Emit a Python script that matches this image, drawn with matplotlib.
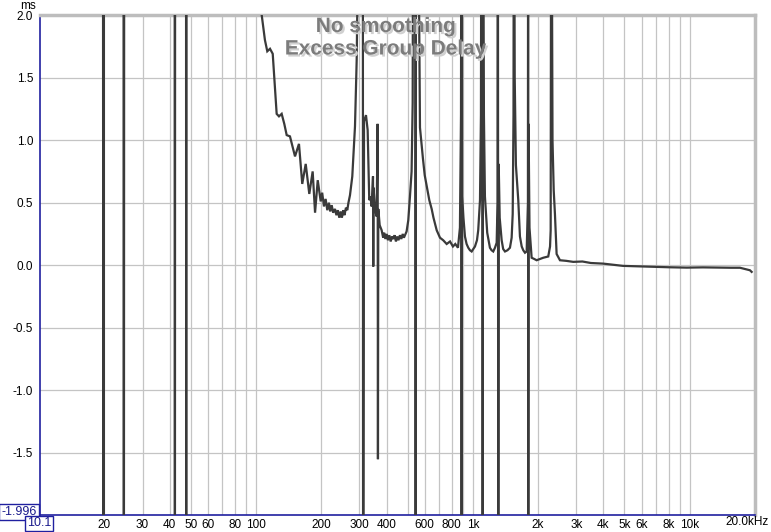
"""
Excess group delay plot (REW style), no smoothing.
Log frequency axis 10.1 Hz .. 20 kHz, delay in ms.
"""
import matplotlib
matplotlib.use("Agg")
import matplotlib.pyplot as plt
import matplotlib.patheffects as pe

# ─────────────────────────────────────────────
# DATA (4.0 / -4.0 = off-chart)
# ─────────────────────────────────────────────

# below ~106 Hz the delay is above the chart, with phase-wrap spikes
low_freq  = [10.1, 19.7, 19.8, 19.9, 24.5, 24.6, 24.7, 42.2, 42.3, 42.4,
             47.6, 47.7, 47.8, 100.0]
low_delay = [4.0, 4.0, -4.0, 4.0, 4.0, -4.0, 4.0, 4.0, -4.0, 4.0,
             4.0, -4.0, 4.0, 2.6]

# the bowl between ~106 Hz and ~293 Hz
bowl_freq  = [106.3, 110.0, 112.8, 116.1, 119.5, 124.6, 127.7, 131.4, 135.1,
              138.6, 143.5, 151.4, 157.9, 163.5, 169.6, 176.2, 182.6, 187.3,
              192.7, 198.9, 202.0, 205.9, 209.5, 213.3, 217.0, 220.0, 223.5,
              227.0, 231.4, 235.0, 238.5, 242.3, 246.0, 249.0, 252.8, 256.0,
              260.0, 263.7, 267.0, 271.4, 278.1, 286.2, 291.4, 293.3]
bowl_delay = [2.0, 1.80, 1.71, 1.73, 1.69, 1.21, 1.19, 1.21, 1.13,
              1.04, 1.03, 0.87, 0.97, 0.65, 0.81, 0.57, 0.75, 0.42,
              0.68, 0.51, 0.58, 0.47, 0.53, 0.44, 0.50, 0.43, 0.48,
              0.42, 0.45, 0.40, 0.44, 0.38, 0.43, 0.38, 0.44, 0.40,
              0.46, 0.44, 0.50, 0.56, 0.71, 1.11, 1.64, 2.0]

# resonances and spikes, ~300 Hz .. 2.5 kHz
mid_freq  = [300, 311, 312, 315, 321.6, 327.4, 333.0, 337, 341.6, 346.5,
             347.5, 348.5, 354, 360.2, 364, 365.2, 366.5, 372, 379.8, 386,
             390, 395, 400.6, 406, 412, 418, 424, 429.8, 436, 442,
             448, 454, 461.3, 468, 475, 481, 486.5, 495, 504, 513,
             522, 528, 531.5, 544, 545, 546, 560, 570.6, 589, 600,
             614.5, 630, 646, 658.5, 681.3, 705.7, 730, 757.5, 785, 809.7,
             830, 854, 872, 882, 886, 888, 890, 893, 905, 919.8,
             936, 952.8, 970, 987.6, 1005, 1023, 1045, 1059, 1079, 1090,
             1096, 1109, 1110, 1112, 1125, 1137, 1165, 1199, 1220, 1242,
             1265, 1288, 1300, 1305, 1310, 1316, 1330, 1358, 1380, 1407,
             1445, 1483, 1510, 1527, 1540, 1547, 1560, 1580, 1620, 1649,
             1680, 1708, 1740, 1771, 1795, 1799, 1801, 1807, 1825, 1867,
             1920, 1969, 2040, 2112, 2170, 2227, 2270, 2285, 2300, 2330,
             2360, 2391, 2434]
mid_delay = [4.0, 4.0, -4.0, 1.15, 1.20, 1.08, 0.52, 0.55, 0.47, 0.71,
             -0.01, 0.62, 0.45, 0.39, 1.13, -1.55, 0.45, 0.32, 0.28, 0.22,
             0.26, 0.21, 0.25, 0.20, 0.24, 0.19, 0.23, 0.21, 0.24, 0.19,
             0.23, 0.20, 0.24, 0.21, 0.25, 0.22, 0.24, 0.27, 0.36, 0.55,
             0.75, 1.30, 4.0, 4.0, -4.0, 4.0, 3.0, 1.10, 0.85, 0.72,
             0.62, 0.52, 0.45, 0.38, 0.28, 0.22, 0.20, 0.17, 0.19, 0.15,
             0.17, 0.14, 0.30, 1.20, 4.0, -4.0, 4.0, 0.55, 0.38, 0.23,
             0.17, 0.14, 0.12, 0.11, 0.13, 0.15, 0.20, 0.28, 0.52, 1.20,
             4.0, 4.0, -4.0, 4.0, 1.20, 0.55, 0.26, 0.14, 0.12, 0.11,
             0.14, 0.18, 0.50, 4.0, -4.0, 0.81, 0.38, 0.20, 0.13, 0.11,
             0.12, 0.14, 0.22, 0.41, 1.20, 4.0, 1.50, 0.80, 0.52, 0.23,
             0.15, 0.12, 0.10, 0.11, 0.50, 4.0, -4.0, 1.13, 0.30, 0.06,
             0.05, 0.04, 0.05, 0.06, 0.065, 0.07, 0.15, 0.28, 4.0, 1.0,
             0.6, 0.41, 0.09]

# nearly flat tail up to 20 kHz
high_freq  = [2522, 2700, 2905, 3200, 3500, 3994, 4400, 4923, 5600, 6767,
              8000, 9681, 11500, 13786, 15500, 17050, 18953, 19300]
high_delay = [0.04, 0.035, 0.027, 0.03, 0.018, 0.013, 0.005, -0.005, -0.008, -0.013,
              -0.016, -0.019, -0.017, -0.019, -0.02, -0.02, -0.04, -0.053]

X_TICKS  = [20, 30, 40, 50, 60, 80, 100, 200, 300, 400, 600, 800,
            1000, 2000, 3000, 4000, 5000, 6000, 8000, 10000]
X_LABELS = ["20", "30", "40", "50", "60", "80", "100", "200", "300", "400",
            "600", "800", "1k", "2k", "3k", "4k", "5k", "6k", "8k", "10k"]
Y_TICKS  = [2.0, 1.5, 1.0, 0.5, 0.0, -0.5, -1.0, -1.5]
Y_LABELS = ["2.0", "1.5", "1.0", "0.5", "0.0", "-0.5", "-1.0", "-1.5"]

# ─────────────────────────────────────────────
# STYLE
# ─────────────────────────────────────────────

GRID  = "#c4c4c4"
BLUE  = "#2020a0"
CURVE = "#3a3a3a"

plt.rcParams["font.family"] = ["Liberation Sans", "DejaVu Sans"]

W, H = 771, 532
fig = plt.figure(figsize=(W / 100, H / 100), dpi=100)
ax = fig.add_axes([40 / W, 17 / H, 715 / W, 500 / H])

freq = low_freq + bowl_freq + mid_freq + high_freq
delay = low_delay + bowl_delay + mid_delay + high_delay

ax.set_xscale("log")
ax.set_xlim(10.1, 20000)
ax.set_ylim(-1.996, 2.0)

# grid: every 1..9 multiple per decade, 0.5 ms horizontals
grid_freqs = [m * d for d in (10, 100, 1000) for m in range(1, 10)] + [10000]
for f in grid_freqs:
    if f > 10.1:
        ax.axvline(f, color=GRID, lw=0.9, zorder=0)
for y in Y_TICKS:
    ax.axhline(y, color=GRID, lw=0.9, zorder=0)

ax.plot(freq, delay, color=CURVE, lw=1.6, zorder=3, solid_joinstyle="miter")

ax.xaxis.set_minor_locator(plt.NullLocator())
ax.set_xticks(X_TICKS)
ax.set_xticklabels(X_LABELS, fontsize=8.5)
ax.set_yticks(Y_TICKS)
ax.set_yticklabels(Y_LABELS, fontsize=8.5)
ax.tick_params(axis="both", length=0)
ax.tick_params(axis="x", pad=3)
ax.tick_params(axis="y", pad=5)

for side in ("left", "bottom"):
    ax.spines[side].set_color(BLUE)
    ax.spines[side].set_linewidth(1.2)
for side in ("top", "right"):
    ax.spines[side].set_color("#bdbdbd")
    ax.spines[side].set_linewidth(2.5)

# axis end labels (boxed) and units
box = dict(boxstyle="square,pad=0.15", fc="white", ec=BLUE, lw=1)
fig.text(19 / W, 1 - 512 / H, "-1.996", ha="center", va="center",
         fontsize=9, color="#1a1a8c", bbox=box)
fig.text(39 / W, 1 - 523.5 / H, "10.1", ha="center", va="center",
         fontsize=9, color="#1a1a8c", bbox=box)
fig.text(747 / W, 1 - 522 / H, "20.0kHz", ha="center", va="center", fontsize=8.5)
fig.text(28 / W, 1 - 6 / H, "ms", ha="center", va="center", fontsize=8.5)

# title with drop shadow
shadow = [pe.SimplePatchShadow(offset=(1.5, -1.5), shadow_rgbFace="#d0d0d0", alpha=1),
          pe.Normal()]
fig.text(386 / W, 1 - 26.5 / H, "No smoothing", ha="center", va="center",
         fontsize=15, fontweight="bold", color="#7c7c7c", path_effects=shadow, zorder=5)
fig.text(386 / W, 1 - 49 / H, "Excess Group Delay", ha="center", va="center",
         fontsize=15, fontweight="bold", color="#7c7c7c", path_effects=shadow, zorder=5)

fig.savefig("out.png", dpi=100)
